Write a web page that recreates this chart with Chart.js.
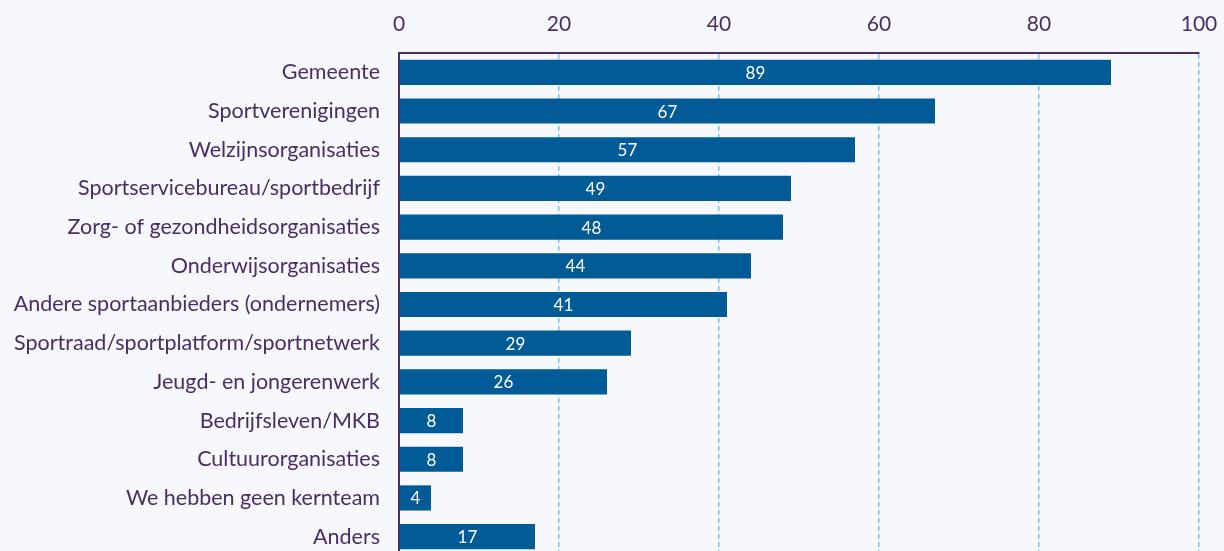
<!DOCTYPE html>
<html>
<head>
<meta charset="utf-8">
<script src="https://cdn.jsdelivr.net/npm/chart.js@4"></script>
<style>
  html, body { margin: 0; padding: 0; background: #f6f8fd; overflow: hidden; }
  #wrap { width: 1224px; height: 556px; }
</style>
</head>
<body>
<div id="wrap"><canvas id="grafico" width="1224" height="556"></canvas></div>
<script>
// categorieen en percentages
const categorieen = [
  'Gemeente',
  'Sportverenigingen',
  'Welzijnsorganisaties',
  'Sportservicebureau/sportbedrijf',
  'Zorg- of gezondheidsorganisaties',
  'Onderwijsorganisaties',
  'Andere sportaanbieders (ondernemers)',
  'Sportraad/sportplatform/sportnetwerk',
  'Jeugd- en jongerenwerk',
  'Bedrijfsleven/MKB',
  'Cultuurorganisaties',
  'We hebben geen kernteam',
  'Anders'
];
const waarden = [89, 67, 57, 49, 48, 44, 41, 29, 26, 8, 8, 4, 17];
const asMin = 0;
const asMax = 100;
const asStap = 20;

const tekstKleur = '#4a2d63';
const balkKleur = '#005b97';
const rasterKleur = '#7cc6fa';

// waarden in de balken schrijven
const balkLabels = {
  id: 'balkLabels',
  afterDatasetsDraw(chart) {
    const ctx = chart.ctx;
    const meta = chart.getDatasetMeta(0);
    ctx.save();
    ctx.fillStyle = '#ffffff';
    ctx.font = '17px Lato';
    ctx.textAlign = 'center';
    ctx.textBaseline = 'middle';
    meta.data.forEach(function (balk, i) {
      const midden = (balk.x + balk.base) / 2;
      ctx.fillText(String(chart.data.datasets[0].data[i]), midden, balk.y + 1);
    });
    ctx.restore();
  }
};

const ctx = document.getElementById('grafico').getContext('2d');
const grafiek = new Chart(ctx, {
  type: 'bar',
  data: {
    labels: categorieen,
    datasets: [{
      data: waarden,
      backgroundColor: balkKleur,
      borderWidth: 0,
      barPercentage: 0.65,
      categoryPercentage: 1
    }]
  },
  options: {
    indexAxis: 'y',
    responsive: false,
    animation: false,
    layout: { padding: { top: 0, right: 25, bottom: 0, left: 0 } },
    plugins: {
      legend: { display: false },
      tooltip: { enabled: false }
    },
    scales: {
      x: {
        position: 'top',
        min: asMin,
        max: asMax,
        ticks: {
          stepSize: asStap,
          color: tekstKleur,
          font: { family: 'Lato', size: 21 },
          padding: 16
        },
        grid: {
          drawTicks: false,
          color: rasterKleur,
          lineWidth: 1.5
        },
        border: { display: true, color: tekstKleur, width: 2, dash: [5, 3] },
        afterFit: function (schaal) {
          schaal.height = 53;
          schaal.paddingLeft = 0;
          schaal.paddingRight = 0;
        }
      },
      y: {
        ticks: {
          color: tekstKleur,
          font: { family: 'Lato', size: 21.5 },
          padding: 19
        },
        grid: { display: false, drawTicks: false },
        border: { display: true, color: tekstKleur, width: 2 },
        afterFit: function (schaal) {
          schaal.width = 399;
          schaal.paddingTop = 0;
          schaal.paddingBottom = 0;
        }
      }
    }
  },
  plugins: [balkLabels]
});
</script>
</body>
</html>
